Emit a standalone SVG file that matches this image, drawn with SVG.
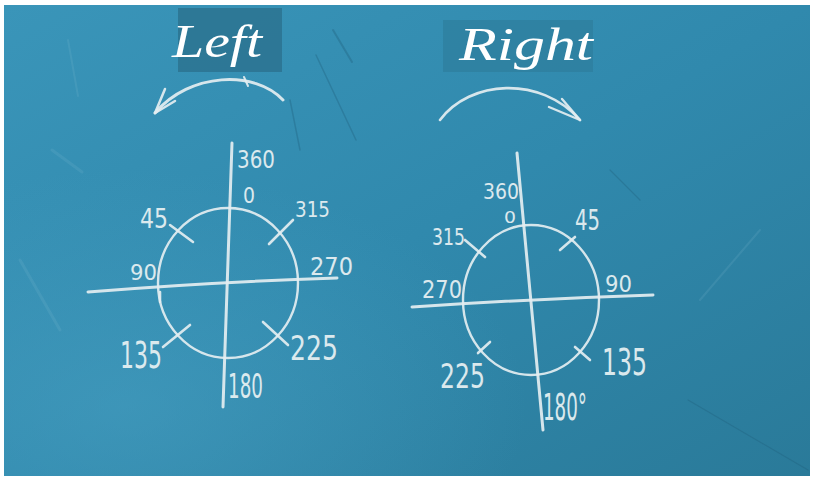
<svg xmlns="http://www.w3.org/2000/svg" width="814" height="480" viewBox="0 0 814 480">
  <defs>
    <linearGradient id="board" x1="0" y1="0" x2="1" y2="1">
      <stop offset="0" stop-color="#3a95b9"/>
      <stop offset="0.5" stop-color="#3089ad"/>
      <stop offset="1" stop-color="#2a7a99"/>
    </linearGradient>
    <radialGradient id="glow" cx="0.15" cy="0.85" r="0.5">
      <stop offset="0" stop-color="#4aa2c4" stop-opacity="0.5"/>
      <stop offset="1" stop-color="#4aa2c4" stop-opacity="0"/>
    </radialGradient>
    <style>
      .chalk { fill: none; stroke: #e4eef1; stroke-linecap: round; stroke-linejoin: round; opacity: 0.92; }
      .axis { stroke-width: 3; }
      .ring { stroke-width: 2.4; }
      .tick { stroke-width: 2.6; }
      .num { font-family: "DejaVu Sans", "Liberation Sans", sans-serif; fill: #e8f1f3; opacity: 0.93; }
      .title { font-family: "Liberation Serif", "DejaVu Serif", serif; font-style: italic; fill: #ffffff; }
      .scratch { fill: none; stroke: #1f5f7a; stroke-linecap: round; opacity: 0.35; }
      .smear { fill: none; stroke: #8cc3d8; stroke-linecap: round; opacity: 0.15; }
    </style>
  </defs>

  <rect x="0" y="0" width="814" height="480" fill="#ffffff"/>
  <g id="board-bg">
    <rect x="4" y="5" width="806" height="471" fill="url(#board)"/>
    <rect x="4" y="5" width="806" height="471" fill="url(#glow)"/>
    <path class="smear" stroke-width="3" d="M52 150 L82 172"/>
    <path class="smear" stroke-width="2" d="M68 40 L78 96"/>
    <path class="smear" stroke-width="3" d="M20 260 L60 330"/>
    <path class="smear" stroke-width="2" d="M700 300 L760 230"/>
    <path class="scratch" stroke-width="2" d="M333 30 L352 62"/>
    <path class="scratch" stroke-width="1.5" d="M316 55 L356 140"/>
    <path class="scratch" stroke-width="1.5" d="M290 100 L300 150"/>
    <path class="scratch" stroke-width="1.2" d="M688 400 L808 470"/>
    <path class="scratch" stroke-width="1.2" d="M610 170 L640 200"/>
  </g>

  <g id="title-left">
    <rect x="178" y="8" width="104" height="64" fill="#2b7391" opacity="0.85"/>
    <text class="title" x="172" y="57" font-size="46" textLength="90" lengthAdjust="spacingAndGlyphs">Left</text>
  </g>
  <g id="title-right">
    <rect x="443" y="20" width="150" height="52" fill="#2d7b99" opacity="0.6"/>
    <text class="title" x="459" y="60" font-size="46" textLength="134" lengthAdjust="spacingAndGlyphs">Right</text>
  </g>

  <g id="arrow-left">
    <path class="chalk" stroke-width="3" d="M283 100 C255 70 190 72 155 113"/>
    <path class="chalk" stroke-width="2.5" d="M155 113 L165 89 M155 113 L175 101"/>
    <path class="chalk" stroke-width="2" d="M244 77 L248 86"/>
  </g>
  <g id="arrow-right">
    <path class="chalk" stroke-width="2.6" d="M440 120 C470 80 540 75 580 120"/>
    <path class="chalk" stroke-width="2.4" d="M580 120 L562 99 M580 120 L549 107"/>
  </g>

  <g id="dial-left">
    <path class="chalk axis" d="M232 143 L223 407"/>
    <path class="chalk axis" d="M88 292 Q210 282 337 278"/>
    <ellipse class="chalk ring" cx="228" cy="283" rx="70" ry="75"/>
    <path class="chalk tick" d="M170 225 L193 242"/>
    <path class="chalk tick" d="M293 220 L269 244"/>
    <path class="chalk tick" d="M190 325 L163 347"/>
    <path class="chalk tick" d="M263 322 L288 345"/>
    <path class="chalk tick" d="M160 292 L160 302"/>
    <text class="num" x="237" y="168" font-size="24" textLength="38" lengthAdjust="spacingAndGlyphs">360</text>
    <text class="num" x="243" y="203" font-size="21" textLength="12" lengthAdjust="spacingAndGlyphs">0</text>
    <text class="num" x="295" y="217" font-size="21" textLength="35" lengthAdjust="spacingAndGlyphs">315</text>
    <text class="num" x="140" y="228" font-size="27" textLength="28" lengthAdjust="spacingAndGlyphs">45</text>
    <text class="num" x="130" y="280" font-size="21" textLength="27" lengthAdjust="spacingAndGlyphs">90</text>
    <text class="num" x="310" y="275" font-size="25" textLength="43" lengthAdjust="spacingAndGlyphs">270</text>
    <text class="num" x="120" y="368" font-size="37" textLength="42" lengthAdjust="spacingAndGlyphs">135</text>
    <text class="num" x="290" y="360" font-size="33" textLength="48" lengthAdjust="spacingAndGlyphs">225</text>
    <text class="num" x="228" y="398" font-size="33" textLength="35" lengthAdjust="spacingAndGlyphs">180</text>
  </g>

  <g id="dial-right">
    <path class="chalk axis" d="M517 153 L543 430"/>
    <path class="chalk axis" d="M412 307 Q530 299 653 295"/>
    <ellipse class="chalk ring" cx="531" cy="300" rx="68" ry="75"/>
    <path class="chalk tick" d="M575 237 L560 250"/>
    <path class="chalk tick" d="M465 240 L485 257"/>
    <path class="chalk tick" d="M490 342 L478 353"/>
    <path class="chalk tick" d="M575 347 L590 360"/>
    <text class="num" x="483" y="199" font-size="21" textLength="36" lengthAdjust="spacingAndGlyphs">360</text>
    <text class="num" x="504" y="223" font-size="15" textLength="12" lengthAdjust="spacingAndGlyphs">0</text>
    <text class="num" x="432" y="245" font-size="23" textLength="33" lengthAdjust="spacingAndGlyphs">315</text>
    <text class="num" x="575" y="230" font-size="29" textLength="25" lengthAdjust="spacingAndGlyphs">45</text>
    <text class="num" x="422" y="298" font-size="25" textLength="40" lengthAdjust="spacingAndGlyphs">270</text>
    <text class="num" x="605" y="292" font-size="23" textLength="27" lengthAdjust="spacingAndGlyphs">90</text>
    <text class="num" x="440" y="388" font-size="33" textLength="45" lengthAdjust="spacingAndGlyphs">225</text>
    <text class="num" x="602" y="375" font-size="37" textLength="45" lengthAdjust="spacingAndGlyphs">135</text>
    <text class="num" x="543" y="420" font-size="37" textLength="44" lengthAdjust="spacingAndGlyphs">180°</text>
  </g>
</svg>
